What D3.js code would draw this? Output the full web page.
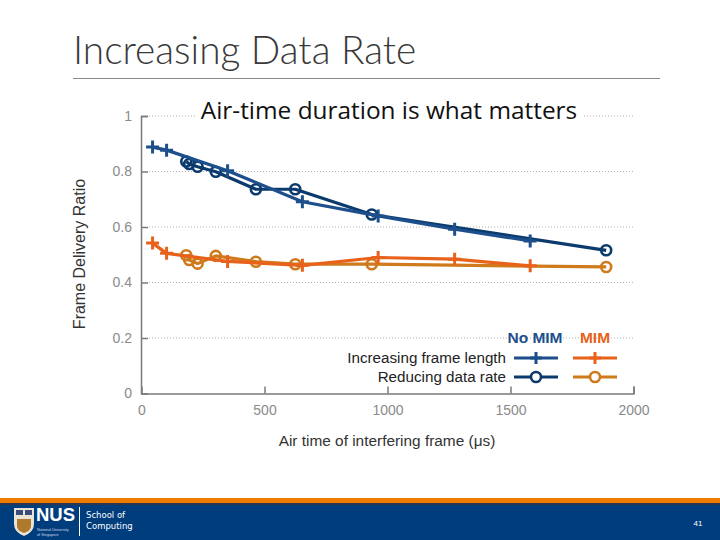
<!DOCTYPE html>
<html><head><meta charset="utf-8">
<script src="https://cdn.jsdelivr.net/npm/d3@7"></script>
<style>body{margin:0;background:#fff;} svg{display:block;}</style>
</head><body>
<svg id="c" width="720" height="540"></svg>
<script>
// ---- data ----
const xTicks = [0, 500, 1000, 1500, 2000];
const yTicks = [0, 0.2, 0.4, 0.6, 0.8, 1];
const yTickLabels = ["0", "0.2", "0.4", "0.6", "0.8", "1"];
const frameLenX = [45, 102, 350, 654, 962, 1273, 1580];
const frameLenNoMIM = [0.888, 0.877, 0.803, 0.691, 0.640, 0.592, 0.550];
const frameLenMIM = [0.542, 0.505, 0.476, 0.462, 0.490, 0.484, 0.460];
const rateX = [182, 194, 228, 302, 465, 625, 936, 1889];
const rateNoMIM = [0.836, 0.827, 0.817, 0.799, 0.736, 0.736, 0.645, 0.516];
const rateMIM = [0.498, 0.481, 0.468, 0.496, 0.475, 0.466, 0.466, 0.456];
const legendCols = ["No MIM", "MIM"];
const legendRows = ["Increasing frame length", "Reducing data rate"];

const C = {blueP:"#1d4f8c", blueO:"#0b3a6c", orP:"#e8621c", orO:"#cf7a1c"};
const svg = d3.select("#c");

// ---- slide chrome ----
svg.append("text").attr("x",73).attr("y",64).attr("font-family","Lato, 'Open Sans', sans-serif")
  .attr("font-weight",300).attr("font-size",38.8).attr("fill","#3a3a3a").text("Increasing Data Rate");
svg.append("line").attr("x1",73).attr("x2",660).attr("y1",78.5).attr("y2",78.5).attr("stroke","#8a8a8a").attr("stroke-width",1);

const x = d3.scaleLinear().domain([0,2000]).range([141.5,633.5]);
const y = d3.scaleLinear().domain([0,1]).range([393.5,116]);

// grid
const g = svg.append("g");
g.selectAll(".grid").data(yTicks.filter(d=>d>0)).join("line")
  .attr("x1",149).attr("x2",633).attr("y1",d=>y(d)).attr("y2",d=>y(d))
  .attr("stroke","#b0b0b0").attr("stroke-width",1).attr("stroke-dasharray","1,2");

// axes
const axisCol = "#7a7a7a";
const yAx = svg.append("g").attr("transform",`translate(${x(0)-0.5},0)`)
  .call(d3.axisLeft(y).tickValues(yTicks).tickFormat((d,i)=>yTickLabels[i]).tickSize(-7).tickPadding(9));
const xAx = svg.append("g").attr("transform",`translate(0,${y(0)})`)
  .call(d3.axisBottom(x).tickValues(xTicks).tickFormat(d3.format("d")).tickSize(-7).tickPadding(12));
[yAx,xAx].forEach(a=>{
  a.select(".domain").attr("stroke",axisCol).attr("stroke-width",1.5);
  a.selectAll(".tick line").attr("stroke",axisCol).attr("stroke-width",1.5);
  a.selectAll(".tick text").attr("fill","#8a8a8a").attr("font-size",14).attr("font-family","'Liberation Sans', Arial, sans-serif");
});
xAx.selectAll(".tick").filter(d=>d===0).select("line").remove();
yAx.selectAll(".tick").filter(d=>d===0).select("line").remove();

// axis titles
svg.append("text").attr("transform","translate(85,254) rotate(-90)").attr("text-anchor","middle")
  .attr("font-family","'Liberation Sans', Arial, sans-serif").attr("font-size",16).attr("fill","#333").text("Frame Delivery Ratio");
svg.append("text").attr("x",387).attr("y",446).attr("text-anchor","middle")
  .attr("font-family","'Liberation Sans', Arial, sans-serif").attr("font-size",15.4).attr("fill","#333").text("Air time of interfering frame (μs)");

// subtitle with white background
svg.append("rect").attr("x",196).attr("y",96).attr("width",386).attr("height",30).attr("fill","#fff");
svg.append("text").attr("x",389).attr("y",119).attr("text-anchor","middle")
  .attr("font-family","'Open Sans', Lato, sans-serif").attr("font-size",24.4).attr("fill","#111").text("Air-time duration is what matters");

// ---- series ----
const line = d3.line().x(d=>x(d[0])).y(d=>y(d[1]));
function plus(sel, px, py, col, s){
  sel.append("path").attr("d",`M${px-s},${py}H${px+s}M${px},${py-s}V${py+s}`).attr("stroke",col).attr("stroke-width",3).attr("fill","none");
}
function series(xs, ys, col, marker){
  const pts = xs.map((v,i)=>[v, ys[i]]);
  svg.append("path").datum(pts).attr("d",line).attr("fill","none").attr("stroke",col).attr("stroke-width",3.2).attr("stroke-linejoin","round");
  const mg = svg.append("g");
  pts.forEach(p=>{
    if(marker==="plus") plus(mg, x(p[0]), y(p[1]), col, 6.5);
    else mg.append("circle").attr("cx",x(p[0])).attr("cy",y(p[1])).attr("r",5).attr("fill","none").attr("stroke",col).attr("stroke-width",2.6);
  });
}
series(rateX, rateMIM, C.orO, "circle");
series(frameLenX, frameLenMIM, C.orP, "plus");
series(rateX, rateNoMIM, C.blueO, "circle");
series(frameLenX, frameLenNoMIM, C.blueP, "plus");

// ---- legend ----
const lf = "'Liberation Sans', Arial, sans-serif";
svg.append("text").attr("x",535).attr("y",343).attr("text-anchor","middle").attr("font-family",lf).attr("font-weight","bold")
  .attr("font-size",15.5).attr("fill",C.blueP).text(legendCols[0]);
svg.append("text").attr("x",595).attr("y",343).attr("text-anchor","middle").attr("font-family",lf).attr("font-weight","bold")
  .attr("font-size",15.5).attr("fill",C.orP).text(legendCols[1]);
const rowY = [358, 377];
const rowCols = [[C.blueP, C.orP],[C.blueO, C.orO]];
legendRows.forEach((r,i)=>{
  svg.append("text").attr("x",506).attr("y",rowY[i]+5).attr("text-anchor","end").attr("font-family",lf)
    .attr("font-size",15.2).attr("fill","#222").text(r);
  [536, 595].forEach((cx,j)=>{
    const col = rowCols[i][j];
    svg.append("line").attr("x1",cx-22).attr("x2",cx+22).attr("y1",rowY[i]).attr("y2",rowY[i]).attr("stroke",col).attr("stroke-width",3);
    if(i===0) plus(svg, cx, rowY[i], col, 6);
    else svg.append("circle").attr("cx",cx).attr("cy",rowY[i]).attr("r",5).attr("fill","#fff").attr("stroke",col).attr("stroke-width",2.6);
  });
});

// ---- footer ----
svg.append("rect").attr("x",0).attr("y",498).attr("width",720).attr("height",6).attr("fill","#ef7c00");
svg.append("rect").attr("x",0).attr("y",503).attr("width",720).attr("height",2).attr("fill","#2b3550");
svg.append("rect").attr("x",0).attr("y",505).attr("width",720).attr("height",35).attr("fill","#003d7c");
// logo shield
svg.append("path").attr("d","M14,508 H34 V524 Q34,532 24,536 Q14,532 14,524 Z").attr("fill","#e9e4d6");
svg.append("rect").attr("x",16).attr("y",510).attr("width",7).attr("height",5).attr("fill","#3a4d7a");
svg.append("rect").attr("x",25).attr("y",510).attr("width",7).attr("height",5).attr("fill","#3a4d7a");
svg.append("path").attr("d","M17,519 H31 V526 Q31,531 24,533 Q17,531 17,526 Z").attr("fill","#b07a2c");
svg.append("text").attr("x",36).attr("y",521).attr("font-family",lf).attr("font-weight","bold").attr("font-size",18.5).attr("fill","#fff").text("NUS");
svg.append("text").attr("x",37).attr("y",530.5).attr("font-family",lf).attr("font-size",3.8).attr("fill","#cfd6e6").text("National University");
svg.append("text").attr("x",37).attr("y",535.5).attr("font-family",lf).attr("font-size",3.8).attr("fill","#cfd6e6").text("of Singapore");
svg.append("line").attr("x1",79.5).attr("x2",79.5).attr("y1",507).attr("y2",536).attr("stroke","#fff").attr("stroke-width",1);
svg.append("text").attr("x",86).attr("y",518).attr("font-family","'DejaVu Sans', sans-serif").attr("font-size",8.5).attr("fill","#fff").text("School of");
svg.append("text").attr("x",86).attr("y",529).attr("font-family","'DejaVu Sans', sans-serif").attr("font-size",8.5).attr("fill","#fff").text("Computing");
svg.append("text").attr("x",698).attr("y",526).attr("text-anchor","middle").attr("font-family",lf).attr("font-size",8).attr("fill","#fff").text("41");
</script>
</body></html>
